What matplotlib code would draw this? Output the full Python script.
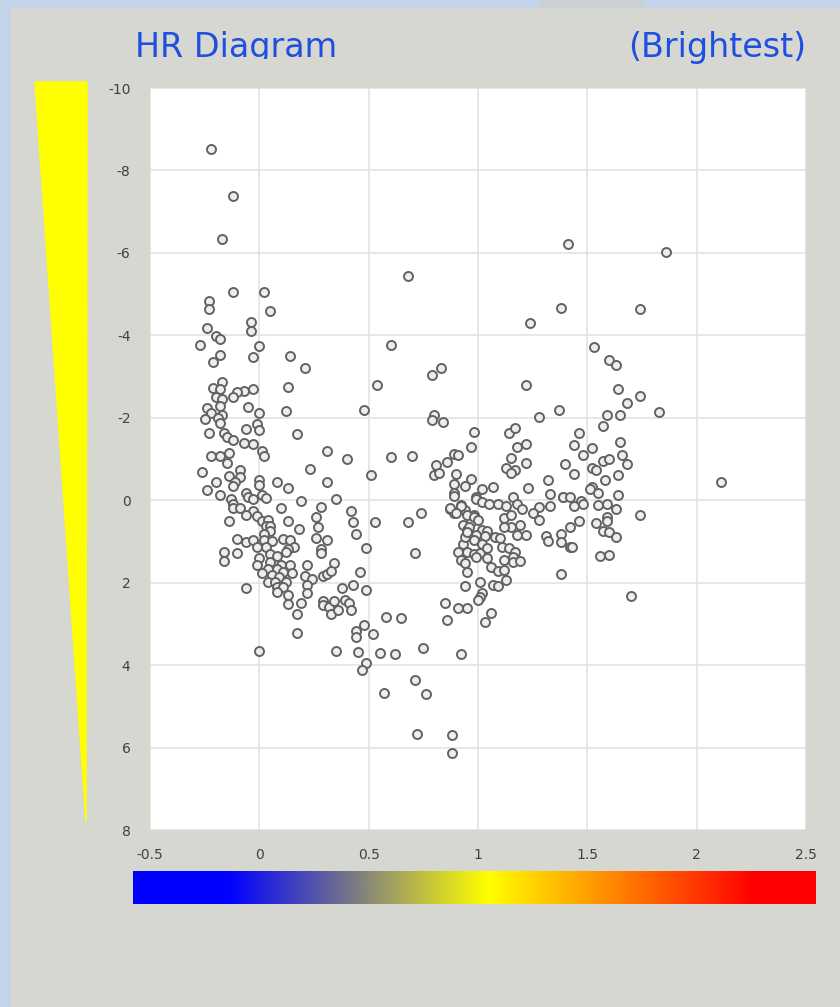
import numpy as np
import matplotlib.pyplot as plt
from matplotlib.colors import LinearSegmentedColormap
from matplotlib.patches import Polygon, Rectangle
from matplotlib.transforms import Bbox

plt.rcParams['axes.unicode_minus'] = False

# (B-V colour index, absolute magnitude)
left_branch = [
    (-0.22, -8.52), (-0.12, -7.38), (-0.17, -6.34), (-0.12, -5.04), (0.02, -5.06), (-0.23, -4.83),
    (-0.23, -4.63), (0.05, -4.58), (-0.04, -4.33), (-0.04, -4.11), (-0.24, -4.19), (-0.20, -3.99),
    (-0.18, -3.91), (-0.27, -3.77), (0.00, -3.73), (-0.18, -3.53), (-0.03, -3.47), (0.14, -3.51),
    (-0.21, -3.35), (0.21, -3.21), (-0.17, -2.86), (-0.21, -2.72), (-0.18, -2.70), (-0.03, -2.70),
    (-0.07, -2.64), (-0.10, -2.63), (0.13, -2.74), (-0.12, -2.51), (-0.20, -2.50), (-0.17, -2.46),
    (-0.18, -2.29), (-0.24, -2.23), (-0.05, -2.27), (0.12, -2.17), (0.00, -2.12), (-0.22, -2.11),
    (-0.17, -2.07), (-0.25, -1.98), (-0.19, -1.99), (-0.18, -1.87), (-0.01, -1.84), (0.00, -1.70),
    (-0.06, -1.73), (-0.23, -1.63), (-0.16, -1.63), (0.17, -1.61), (-0.15, -1.53), (-0.12, -1.45),
    (-0.07, -1.40), (-0.03, -1.37), (0.01, -1.20), (0.02, -1.07), (0.31, -1.20), (-0.22, -1.07),
    (-0.18, -1.07), (-0.14, -1.15), (-0.15, -0.91), (-0.26, -0.68), (-0.09, -0.73), (-0.14, -0.59),
    (-0.09, -0.56), (-0.20, -0.43), (-0.11, -0.45), (0.00, -0.49), (0.00, -0.38), (0.08, -0.44),
    (-0.12, -0.34), (0.23, -0.75), (0.31, -0.43), (0.13, -0.30), (-0.24, -0.25), (-0.18, -0.13),
    (-0.06, -0.18), (-0.05, -0.08), (0.01, -0.12), (0.03, -0.05), (-0.03, -0.02), (-0.13, -0.02),
    (-0.12, 0.08), (0.19, 0.02), (0.35, -0.02), (-0.12, 0.18), (-0.09, 0.20), (0.10, 0.20),
    (0.28, 0.16), (-0.03, 0.26), (-0.06, 0.37), (-0.01, 0.39), (0.26, 0.40), (-0.14, 0.50),
    (0.01, 0.50), (0.04, 0.48), (0.13, 0.50), (0.03, 0.63), (0.05, 0.63), (0.27, 0.65),
    (0.18, 0.71), (0.05, 0.75), (0.02, 0.82), (-0.10, 0.95), (-0.06, 1.01), (-0.03, 0.97),
    (0.02, 0.97), (0.06, 0.98), (0.11, 0.95), (0.14, 0.97), (0.26, 0.92), (0.31, 0.97),
    (-0.01, 1.13), (0.03, 1.13), (0.16, 1.13), (0.13, 1.19), (-0.16, 1.25), (-0.10, 1.27),
    (0.28, 1.19), (0.28, 1.27), (0.05, 1.31), (0.08, 1.35), (0.00, 1.41), (0.12, 1.25),
    (-0.16, 1.47), (0.05, 1.49), (-0.01, 1.56), (0.10, 1.56), (0.14, 1.56), (0.22, 1.58),
    (0.34, 1.53), (0.04, 1.66), (0.08, 1.66), (0.11, 1.73), (0.15, 1.76), (0.01, 1.77),
    (0.06, 1.81), (0.09, 1.86), (0.21, 1.83), (0.24, 1.90), (0.29, 1.84), (0.31, 1.79),
    (0.33, 1.71), (0.04, 1.98), (0.07, 1.99), (0.12, 1.98), (-0.06, 2.13), (0.08, 2.10),
    (0.11, 2.10), (0.22, 2.05), (0.08, 2.22), (0.13, 2.30), (0.22, 2.26), (0.13, 2.52),
    (0.19, 2.50), (0.17, 2.76), (0.29, 2.44), (0.29, 2.54), (0.32, 2.58), (0.34, 2.44),
    (0.33, 2.77), (0.17, 3.21), (0.00, 3.65), (0.35, 3.65),
]

middle_stars = [
    (0.60, -3.77), (0.79, -3.04), (0.83, -3.21), (0.54, -2.80), (0.48, -2.20), (0.80, -2.06),
    (0.79, -1.95), (0.84, -1.90), (0.98, -1.66), (0.97, -1.30), (0.40, -0.99), (0.60, -1.06),
    (0.70, -1.07), (0.89, -1.11), (0.91, -1.09), (0.86, -0.93), (0.81, -0.86), (0.80, -0.62),
    (0.82, -0.67), (0.90, -0.63), (0.51, -0.60), (0.97, -0.52), (0.89, -0.39), (0.94, -0.34),
    (0.89, -0.18), (0.89, -0.11), (0.99, -0.07), (0.42, 0.26), (0.43, 0.52), (0.53, 0.52),
    (0.44, 0.83), (0.68, 0.52), (0.74, 0.32), (0.87, 0.22), (0.92, 0.12), (0.94, 0.24),
    (0.89, 0.30), (0.93, 0.60), (0.95, 0.72), (0.98, 0.36), (0.97, 0.52), (0.93, 1.05),
    (0.94, 0.89), (0.49, 1.17), (0.71, 1.29), (0.46, 1.74), (0.43, 2.05), (0.38, 2.14),
    (0.49, 2.18), (0.39, 2.41), (0.41, 2.50), (0.42, 2.66), (0.36, 2.66), (0.48, 3.02),
    (0.58, 2.83), (0.65, 2.86), (0.44, 3.17), (0.44, 3.33), (0.52, 3.25), (0.45, 3.67),
    (0.55, 3.70), (0.62, 3.72), (0.75, 3.59), (0.92, 3.72), (0.49, 3.96), (0.47, 4.12),
    (0.71, 4.36), (0.57, 4.67), (0.76, 4.70), (0.72, 5.67), (0.88, 5.69), (0.88, 6.12),
    (0.85, 2.50), (0.86, 2.91), (0.91, 2.62), (0.95, 2.62), (0.94, 2.08), (0.95, 1.73),
    (0.68, -5.44),
]

right_branch = [
    (1.28, -2.01), (1.37, -2.20), (1.14, -1.64), (1.17, -1.76), (1.18, -1.30), (1.22, -1.37),
    (1.15, -1.02), (1.22, -0.90), (1.13, -0.77), (1.17, -0.73), (1.15, -0.67), (1.02, -0.27),
    (1.07, -0.32), (0.99, -0.04), (1.02, 0.04), (1.05, 0.09), (1.09, 0.09), (1.13, 0.13),
    (1.16, -0.07), (1.18, 0.09), (1.20, 0.22), (1.23, -0.29), (1.32, -0.49), (1.33, -0.14),
    (1.39, -0.08), (1.33, 0.14), (1.28, 0.17), (1.25, 0.32), (1.28, 0.48), (0.87, 0.20),
    (0.92, 0.14), (0.90, 0.32), (0.95, 0.36), (0.98, 0.40), (1.00, 0.48), (1.12, 0.44),
    (1.15, 0.36), (1.15, 0.66), (1.19, 0.60), (1.12, 0.65), (0.96, 0.66), (1.02, 0.72),
    (1.04, 0.74), (0.95, 0.76), (0.99, 0.84), (1.03, 0.87), (1.08, 0.90), (1.10, 0.92),
    (1.18, 0.84), (1.22, 0.84), (1.31, 0.87), (1.32, 0.98), (1.38, 0.83), (1.38, 1.01),
    (1.42, 1.13), (0.98, 0.97), (1.02, 1.07), (0.91, 1.25), (0.95, 1.25), (0.98, 1.31),
    (1.01, 1.29), (1.04, 1.17), (1.11, 1.14), (1.14, 1.17), (1.17, 1.25), (1.16, 1.37),
    (0.92, 1.44), (0.94, 1.53), (0.99, 1.37), (1.04, 1.41), (1.06, 1.61), (1.12, 1.45),
    (1.16, 1.51), (1.19, 1.47), (1.09, 1.71), (1.12, 1.69), (1.13, 1.94), (1.38, 1.79),
    (1.01, 1.98), (1.07, 2.06), (1.09, 2.08), (1.02, 2.25), (1.01, 2.34), (1.00, 2.42),
    (1.06, 2.74), (1.03, 2.95),
    (1.41, -6.22), (1.86, -6.01), (1.74, -4.63), (1.38, -4.66), (1.53, -3.72), (1.60, -3.40),
    (1.63, -3.27), (1.64, -2.71), (1.74, -2.53), (1.68, -2.37), (1.83, -2.15), (1.59, -2.07),
    (1.65, -2.07), (1.57, -1.79), (1.46, -1.62), (1.65, -1.42), (1.44, -1.33), (1.52, -1.26),
    (1.48, -1.09), (1.66, -1.10), (1.57, -0.96), (1.60, -1.01), (1.68, -0.87), (1.40, -0.87),
    (1.52, -0.79), (1.54, -0.73), (1.44, -0.63), (1.64, -0.60), (1.58, -0.50), (2.11, -0.45),
    (1.52, -0.32), (1.51, -0.27), (1.55, -0.18), (1.64, -0.13), (1.39, -0.07), (1.42, -0.07),
    (1.47, 0.02), (1.48, 0.08), (1.44, 0.14), (1.55, 0.12), (1.59, 0.08), (1.63, 0.22),
    (1.46, 0.50), (1.54, 0.56), (1.59, 0.40), (1.59, 0.51), (1.74, 0.35), (1.42, 0.65),
    (1.57, 0.74), (1.60, 0.77), (1.63, 0.90), (1.43, 1.13), (1.56, 1.35), (1.60, 1.33),
    (1.70, 2.32), (1.24, -4.30), (1.22, -2.79),
]

x_ticks = [-0.5, 0, 0.5, 1, 1.5, 2, 2.5]
y_ticks = [-10, -8, -6, -4, -2, 0, 2, 4, 6, 8]

# colour bar stops (position along bar, colour)
bar_stops = [(0.0, '#0000ff'), (0.14, '#0000ff'), (0.52, '#ffff00'), (0.91, '#ff0000'), (1.0, '#ff0000')]

stars = np.array(left_branch + middle_stars + right_branch)

W, H = 840, 1007
fig = plt.figure(figsize=(W / 100, H / 100), dpi=100, facecolor='#d6d7d1')

# window frame strips
fig.patches.append(Rectangle((0, 0), 10 / W, 1, transform=fig.transFigure, color='#c3d3ea', zorder=0))
fig.patches.append(Rectangle((0, 1 - 7 / H), 1, 7 / H, transform=fig.transFigure, color='#c3d3ea', zorder=0))
fig.patches.append(Rectangle((540 / W, 1 - 7 / H), 102 / W, 7 / H, transform=fig.transFigure,
                             color='#cdd0d3', zorder=0))

# brightness wedge
fig.patches.append(Polygon([(35 / W, 1 - 82 / H), (87 / W, 1 - 82 / H), (86 / W, 1 - 822 / H)],
                           closed=True, transform=fig.transFigure, color='#ffff00', zorder=1))

ax = fig.add_axes([150 / W, 177 / H, 656 / W, 742 / H])
ax.set_facecolor('white')
ax.scatter(stars[:, 0], stars[:, 1], s=42, facecolor='#eeeeee', edgecolor='#636363',
           linewidth=1.4, zorder=3)
ax.set_xlim(-0.5, 2.5)
ax.set_ylim(8, -10)
ax.set_xticks(x_ticks)
ax.set_xticklabels([f'{t:g}' for t in x_ticks])
ax.set_yticks(y_ticks)
ax.grid(color='#e3e3e3', linewidth=1.2)
ax.set_axisbelow(True)
for s in ax.spines.values():
    s.set_visible(False)
ax.tick_params(axis='both', length=0, labelsize=10, labelcolor='#404040')
ax.tick_params(axis='x', pad=13)
ax.tick_params(axis='y', pad=14)

# colour bar under the axis
cax = fig.add_axes([133 / W, 103 / H, 683 / W, 33 / H])
cmap = LinearSegmentedColormap.from_list('bv', bar_stops)
cax.imshow(np.linspace(0, 1, 512)[None, :], aspect='auto', cmap=cmap)
cax.set_axis_off()

title_color = '#1f4fe0'
t = fig.text(135 / W, 1 - 57 / H, 'HR Diagram', fontsize=24, color=title_color, ha='left', va='baseline')
t.set_clip_box(Bbox([[0, H - 59], [W, H]]))
t.set_clip_on(True)
fig.text(806 / W, 1 - 57 / H, '(Brightest)', fontsize=24, color=title_color, ha='right', va='baseline')

fig.savefig('out.png', dpi=100, facecolor=fig.get_facecolor())
